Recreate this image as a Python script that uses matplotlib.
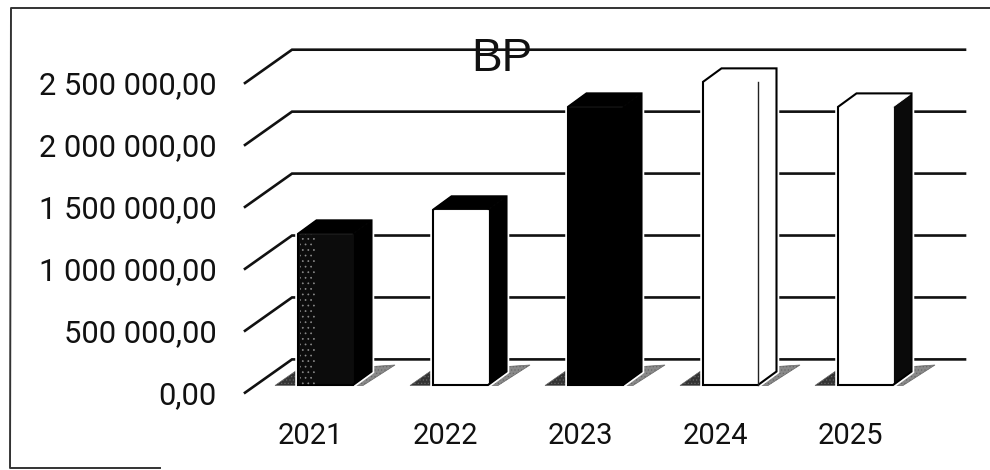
import matplotlib
matplotlib.use("Agg")
import matplotlib.pyplot as plt
from matplotlib.patches import Polygon
from matplotlib.lines import Line2D

years = ["2021", "2022", "2023", "2024", "2025"]
values = [1220000, 1414000, 2245000, 2447000, 2245000]
tick_values = [0, 500000, 1000000, 1500000, 2000000, 2500000]
tick_labels = ["0,00", "500 000,00", "1 000 000,00", "1 500 000,00", "2 000 000,00", "2 500 000,00"]
title = "BP"

front_colors = ["#0c0c0c", "white", "black", "white", "white"]
top_colors = ["black", "black", "black", "white", "white"]
side_colors = ["black", "black", "black", "white", "#0a0a0a"]

W, H = 990, 470
plt.rcParams["font.family"] = ["Roboto", "DejaVu Sans"]
plt.rcParams["hatch.linewidth"] = 0.5
fig = plt.figure(figsize=(W / 100, H / 100), dpi=100)

# axes = front plane of the 3D box
px_left, px_right, px_top, px_bottom = 245, 918, 83, 392.7
ax = fig.add_axes([px_left / W, 1 - px_bottom / H, (px_right - px_left) / W, (px_bottom - px_top) / H])
XPX = 135.0
YPX = (px_bottom - px_top) / 2500000
ax.set_xlim((px_left - 310) / XPX, (px_right - 310) / XPX)
ax.set_ylim(0, 2500000)
for s in ax.spines.values():
    s.set_visible(False)
ax.patch.set_alpha(0)

dx = lambda p: p / XPX
dy = lambda p: p / YPX

# walls and gridlines
x0, x1 = ax.get_xlim()
depth_x, depth_y = dx(47), dy(33.3)
for t in tick_values:
    ax.plot([x0, x0 + depth_x, x1 + depth_x], [t, t + depth_y, t + depth_y],
            color="#111111", lw=1.9, clip_on=False, zorder=1, solid_joinstyle="miter")

# bars
half, off = dx(27.5), dx(15.5)
floor = dy(7.7)
bar_dx, bar_dy = dx(18.5), dy(13.5)
for i, v in enumerate(values):
    L, R = i + off - half, i + off + half
    B, T = floor, floor + v
    z = 3 + i * 0.01
    # floor shadow
    ax.add_patch(Polygon([(L - dx(23), B - dy(0.5)), (L + dx(2), B + dy(17)), (L + dx(12), B + dy(17)),
                          (L + dx(8), B - dy(0.5))],
                         closed=True, fc="#333333", ec="#666666", lw=0.5, hatch=".....",
                         clip_on=False, zorder=2))
    ax.add_patch(Polygon([(R - dx(4), B - dy(0.5)), (R + dx(10), B - dy(0.5)), (R + dx(42), B + dy(20)),
                          (R + dx(12), B + dy(18))],
                         closed=True, fc="#8a8a8a", ec="#666666", lw=0.5, hatch=".....",
                         clip_on=False, zorder=2))
    # white halo separating the gridlines from the bar
    halo = [(L, B), (L, T), (L + bar_dx, T + bar_dy), (R + bar_dx, T + bar_dy), (R + bar_dx, B + bar_dy), (R, B)]
    ax.add_patch(Polygon(halo, closed=True, fc="white", ec="white", lw=4, clip_on=False, zorder=z - 0.5))
    # faces, with a hairline of their own colour so that no seams show
    ax.add_patch(Polygon([(R, B), (R, T), (R + bar_dx, T + bar_dy), (R + bar_dx, B + bar_dy)], closed=True,
                         fc=side_colors[i], ec=side_colors[i], lw=0.6, clip_on=False, zorder=z))
    ax.add_patch(Polygon([(L, T), (L + bar_dx, T + bar_dy), (R + bar_dx, T + bar_dy), (R, T)], closed=True,
                         fc=top_colors[i], ec=top_colors[i], lw=0.6, clip_on=False, zorder=z))
    ax.bar(i + off, v, width=2 * half, bottom=B, color=front_colors[i], edgecolor=front_colors[i], linewidth=0.6,
           clip_on=False, zorder=z + 0.001)
    # silhouette outline; the edge between front and top is not visible in the scan
    ax.add_patch(Polygon(halo, closed=True, fc="none", ec="black", lw=1.5, clip_on=False, zorder=z + 0.002))
    if side_colors[i] == "white":
        ax.plot([R, R], [B, T], color="#222222", lw=1.0, clip_on=False, zorder=z + 0.003)
    if i == 0:
        # worn, speckled left part of the dark column
        ax.bar(L + dx(9), v, width=dx(15), bottom=B, color="none", edgecolor="#8a8a8a", linewidth=0,
               hatch="...", clip_on=False, zorder=z + 0.004)

# axes labels
ax.set_xticks(range(len(years)), years, fontsize=21, color="#111111")
ax.set_yticks(tick_values, tick_labels, fontsize=22.2, color="#111111")
ax.tick_params(axis="both", length=0)
ax.tick_params(axis="x", pad=21)
ax.tick_params(axis="y", pad=20.5)

# title on the top gridline
fig.text(502 / W, 1 - 59 / H, title, fontsize=33, ha="center", va="center", color="#111111",
         family=["Liberation Sans", "DejaVu Sans"], zorder=5)

# scanned frame (left, top and a stub of the bottom edge)
fig.add_artist(Line2D([990 / W, 11 / W, 10 / W, 160 / W], [1 - 8 / H, 1 - 8 / H, 1 - 468 / H, 1 - 468 / H],
                      color="#333333", lw=1.4))

fig.savefig("out.png", dpi=100, facecolor="white")
